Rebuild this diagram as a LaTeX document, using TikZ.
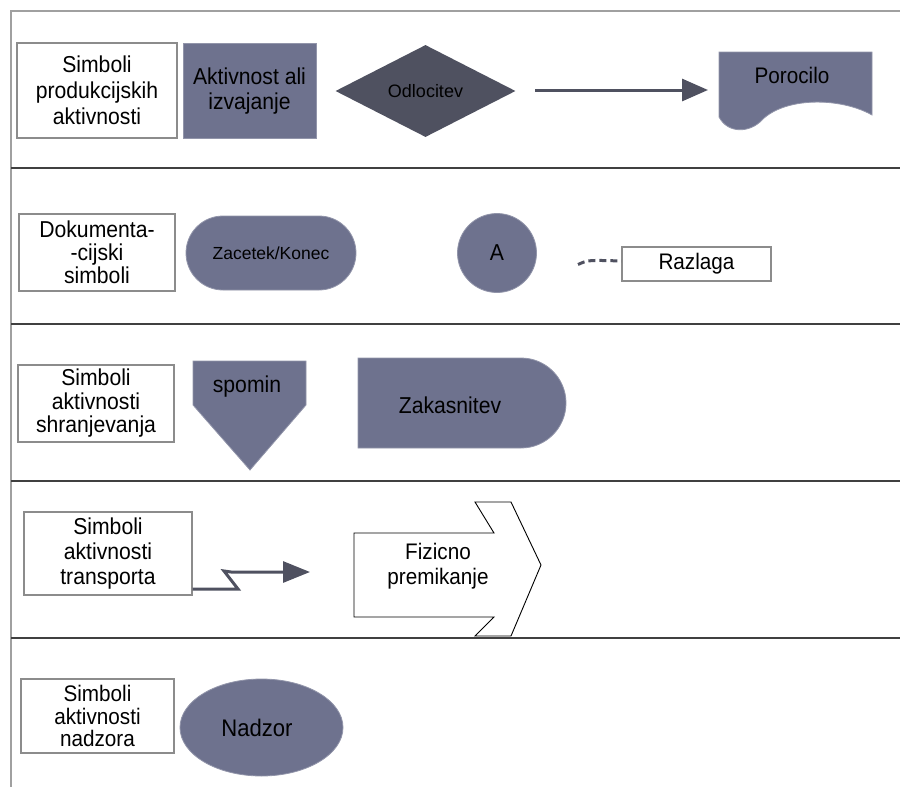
\documentclass[tikz,border=0pt]{standalone}
\usepackage{fontspec}
\setmainfont{Liberation Sans}[FakeStretch=0.92]
\newfontfamily\plainsans{Liberation Sans}
\usetikzlibrary{shapes.geometric,arrows.meta}
\definecolor{shapefill}{HTML}{6E728E}
\definecolor{darkfill}{HTML}{4F5160}
\definecolor{framegray}{HTML}{A0A0A0}
\definecolor{rulegray}{HTML}{404040}
\definecolor{boxgray}{HTML}{8C8C8C}

\begin{document}
\begin{tikzpicture}[x=1pt,y=-1pt,
  txt/.style={font=\fontsize{23}{25}\selectfont, align=center, inner sep=0pt},
  labelbox/.style={draw=boxgray, line width=1.2pt, fill=white, inner sep=0pt,
    align=center, font=\fontsize{23}{24}\selectfont},
  symfill/.style={fill=shapefill, draw=shapefill!75!white, line width=0.8pt},
  thickline/.style={draw=darkfill, line width=3pt},
  framerule/.style={draw=framegray, line width=1.5pt},
  rowrule/.style={draw=rulegray, line width=1.8pt}
]
\useasboundingbox (0,0) rectangle (900,787);

% outer frame and row separators
\draw[framerule] (11,787) -- (11,11) -- (900,11);
\foreach \yy in {168,324,481,638}
  \draw[rowrule] (11,\yy) -- (900,\yy);

% ---- row 1: production activities
\node[labelbox, minimum width=160pt, minimum height=95pt,
      font=\fontsize{23}{26}\selectfont] (lab1) at (97,90.5)
      {Simboli\\produkcijskih\\aktivnosti};
\node[symfill, minimum width=133pt, minimum height=95pt, txt] (act) at (249.5,91)
      {Aktivnost ali\\izvajanje};
\node[diamond, aspect=2, fill=darkfill, minimum width=180pt, minimum height=92pt,
      inner sep=0pt, font=\plainsans\fontsize{18}{20}\selectfont] (dec) at (425.5,91) {Odlocitev};
\coordinate (a1) at (535,90);
\coordinate (a2) at (708,90);
\draw[thickline, -{Triangle[length=26pt,width=22pt]}] (a1) -- (a2);
\path[symfill] (719,52) -- (872,52) -- (872,115)
  .. controls (840,97) and (785,97) .. (762,120)
  .. controls (750,133) and (728,134) .. (719,117) -- cycle;
\node[txt, font=\fontsize{22.5}{24}\selectfont] (rep) at (792,75) {Porocilo};

% ---- row 2: documentation symbols
\node[labelbox, minimum width=156pt, minimum height=77pt,
      font=\fontsize{23}{23}\selectfont] (lab2) at (97,252.5)
      {Dokumenta-\\-cijski\\simboli};
\node[rectangle, rounded corners=37pt, symfill, minimum width=170pt, minimum height=74pt,
      inner sep=0pt, font=\plainsans\fontsize{17.5}{20}\selectfont] (term) at (271,253) {Zacetek/Konec};
\node[circle, symfill, minimum size=79pt, txt] (conn) at (497,253) {A};
\node[labelbox, minimum width=149pt, minimum height=34pt,
      font=\fontsize{22.5}{24}\selectfont] (expl) at (696.5,264) {Razlaga};
\coordinate (d0) at (578,264.5);
\draw[draw=darkfill, line width=3pt, dash pattern=on 7pt off 4pt]
  (d0) .. controls (588,260) .. ([yshift=3pt]expl.west);

% ---- row 3: storage symbols
\node[labelbox, minimum width=156pt, minimum height=77pt,
      font=\fontsize{23}{23.5}\selectfont] (lab3) at (96,403.5)
      {Simboli\\aktivnosti\\shranjevanja};
\path[symfill] (193,361) -- (306,361) -- (306,405) -- (250,470) -- (193,405) -- cycle;
\node[txt] (mem) at (247,387) {spomin};
\path[symfill] (358,358) -- (521,358) arc(-90:90:45) -- (358,448) -- cycle;
\node[txt] (delay) at (450,405) {Zakasnitev};

% ---- row 4: transport symbols
\node[labelbox, minimum width=168pt, minimum height=83pt,
      font=\fontsize{23}{25}\selectfont] (lab4) at (108,553.5)
      {Simboli\\aktivnosti\\transporta};
\coordinate (z0) at (lab4.east |- 0,589);
\coordinate (z3) at (310,572);
\draw[thickline, line join=miter, -{Triangle[length=27pt,width=21pt]}]
  (z0) -- (238,589) -- (224,571) -- (231,572) -- (z3);
\draw[fill=white, draw=black, line width=0.9pt]
  (354,533) -- (494,533) -- (475,502) -- (511,502) -- (541,565)
  -- (511,636) -- (475,636) -- (494,617) -- (354,617) -- cycle;
\node[txt, font=\fontsize{22.5}{25}\selectfont] (move) at (438,566) {Fizicno\\premikanje};

% ---- row 5: inspection symbols
\node[labelbox, minimum width=153pt, minimum height=74pt,
      font=\fontsize{22.5}{22.5}\selectfont] (lab5) at (97.5,716)
      {Simboli\\aktivnosti\\nadzora};
\node[ellipse, symfill, minimum width=163pt, minimum height=97pt, txt,
      font=\fontsize{24}{26}\selectfont] (insp) at (261.5,727.5) {};
\node[txt, font=\fontsize{24}{26}\selectfont] (inspt) at (257,727.5) {Nadzor};
\end{tikzpicture}
\end{document}
